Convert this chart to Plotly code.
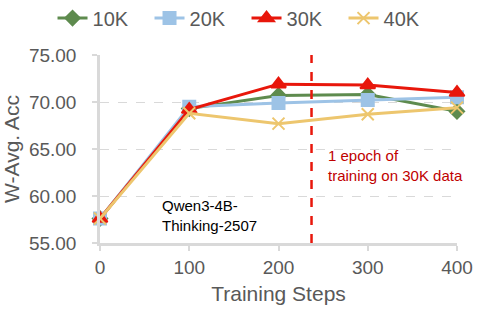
import plotly.graph_objects as go

steps = [0, 100, 200, 300, 400]
acc_10k = [57.6, 69.3, 70.7, 70.8, 69.0]
acc_20k = [57.6, 69.5, 69.9, 70.2, 70.5]
acc_30k = [57.6, 69.2, 71.9, 71.8, 71.0]
acc_40k = [57.6, 68.8, 67.7, 68.7, 69.4]
y_ticks = [55, 60, 65, 70, 75]
epoch_step = 237

series = [
    ("10K", acc_10k, "#5E8B4E", "diamond", 11),
    ("20K", acc_20k, "#9DC3E6", "square", 12),
    ("30K", acc_30k, "#E8170B", "triangle-up", 13),
    ("40K", acc_40k, "#EDC66E", "x-thin-open", 12),
]

FONT = "Liberation Sans, Arial"
fig = go.Figure()
for name, vals, color, sym, size in series:
    fig.add_trace(go.Scatter(
        x=steps, y=vals, name=name, mode="lines+markers",
        line=dict(color=color, width=3),
        marker=dict(symbol=sym, size=size, color=color,
                    line=dict(color=color, width=2)),
        cliponaxis=False,
    ))

fig.add_shape(type="line", x0=epoch_step, x1=epoch_step, y0=55, y1=75,
              xref="x", yref="y", line=dict(color="#E8170B", width=2.5, dash="dash"))

fig.add_annotation(x=epoch_step + 16, y=65.4, xref="x", yref="y",
                   text="1 epoch of<br>training on 30K data", showarrow=False,
                   xanchor="left", yanchor="top", align="left",
                   font=dict(color="#C00000", size=15, family=FONT))
fig.add_annotation(x=67, y=60.1, xref="x", yref="y",
                   text="Qwen3-4B-<br>Thinking-2507", showarrow=False,
                   xanchor="left", yanchor="top", align="left",
                   font=dict(color="#000000", size=15, family=FONT))

fig.update_layout(
    width=479, height=313,
    margin=dict(l=100, r=22, t=55, b=70, autoexpand=False),
    paper_bgcolor="white", plot_bgcolor="white",
    font=dict(family=FONT, color="#595959", size=19),
    legend=dict(orientation="h", x=-0.133, xanchor="left", xref="paper",
                y=1.30, yref="paper", yanchor="top",
                font=dict(size=20, color="#595959"),
                entrywidth=52, entrywidthmode="pixels"),
    showlegend=True,
)
fig.update_xaxes(range=[0, 400], tickvals=steps, showgrid=False, automargin=False,
                 showline=True, linecolor="#D9D9D9", linewidth=2.5,
                 ticks="outside", tickcolor="#D9D9D9", ticklen=5, tickwidth=2,
                 ticklabeloverflow="allow",
                 tickfont=dict(size=19, color="#595959"),
                 title=dict(text="Training Steps", font=dict(size=21, color="#595959"), standoff=10),
                 zeroline=False)
fig.update_yaxes(range=[55, 75], tickvals=y_ticks, tickformat=".2f", automargin=False,
                 showgrid=True, gridcolor="#D9D9D9", griddash="dash", gridwidth=1,
                 showline=True, linecolor="#D9D9D9", linewidth=2.5,
                 ticks="outside", tickcolor="#D9D9D9", ticklen=5, tickwidth=2,
                 ticklabelstandoff=12,
                 tickfont=dict(size=19, color="#595959"),
                 title=dict(text="W-Avg. Acc", font=dict(size=21, color="#595959"), standoff=6),
                 zeroline=False)

fig.write_html("out.html", config={"displayModeBar": False},
               post_script="document.body.style.margin='0';")
